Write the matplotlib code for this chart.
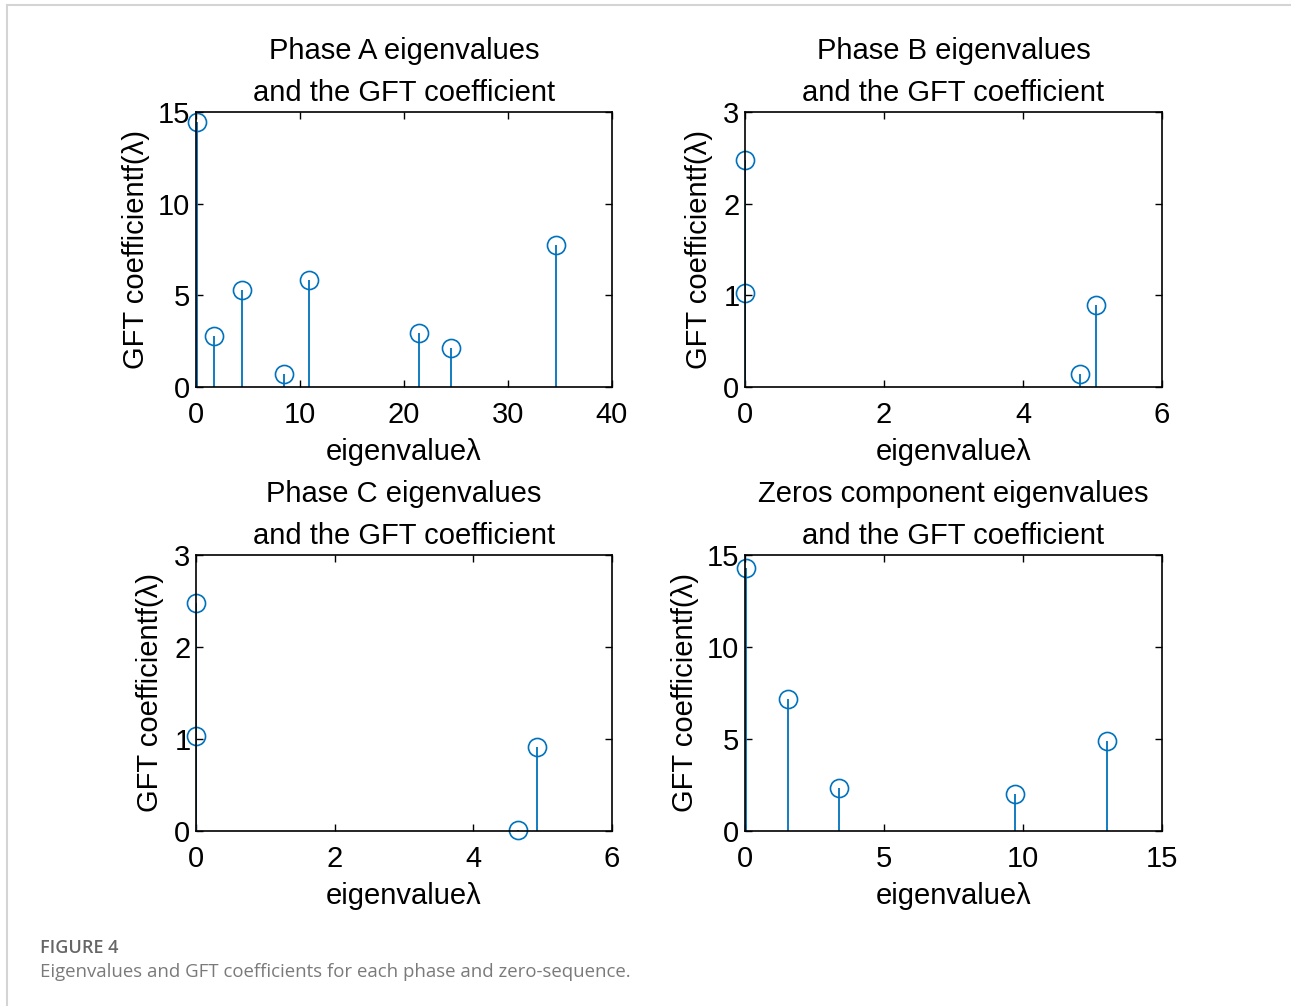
import matplotlib
matplotlib.use("Agg")
import matplotlib.pyplot as plt
from matplotlib.lines import Line2D

# --- Data: eigenvalue (x) and GFT coefficient f(λ) (y) per component ---

PHASE_A_LAMBDA = [0.1, 1.7, 4.4, 8.5, 10.9, 21.4, 24.5, 34.6]
PHASE_A_COEF = [14.47, 2.76, 5.27, 0.69, 5.82, 2.95, 2.15, 7.76]

PHASE_B_LAMBDA = [0.0, 0.0, 4.82, 5.05]
PHASE_B_COEF = [2.48, 1.03, 0.145, 0.89]

PHASE_C_LAMBDA = [0.0, 0.0, 4.65, 4.92]
PHASE_C_COEF = [2.48, 1.03, 0.01, 0.91]

ZERO_LAMBDA = [0.02, 1.53, 3.37, 9.71, 13.02]
ZERO_COEF = [14.3, 7.15, 2.36, 2.03, 4.9]

TITLES = [
    "Phase A eigenvalues\nand the GFT coefficient",
    "Phase B eigenvalues\nand the GFT coefficient",
    "Phase C eigenvalues\nand the GFT coefficient",
    "Zeros component eigenvalues\nand the GFT coefficient",
]
XLIMS = [(0, 40), (0, 6), (0, 6), (0, 15)]
YLIMS = [(0, 15), (0, 3), (0, 3), (0, 15)]
XTICKS = [[0, 10, 20, 30, 40], [0, 2, 4, 6], [0, 2, 4, 6], [0, 5, 10, 15]]
YTICKS = [[0, 5, 10, 15], [0, 1, 2, 3], [0, 1, 2, 3], [0, 5, 10, 15]]

XLABEL = "eigenvalueλ"
YLABEL = "GFT coefficientf(λ)"
CAPTION_HEAD = "FIGURE 4"
CAPTION_TEXT = "Eigenvalues and GFT coefficients for each phase and zero-sequence."

STEM_BLUE = "#0072BD"
W, H = 1291, 1006

plt.rcParams["font.family"] = ["Liberation Sans", "DejaVu Sans"]

fig = plt.figure(figsize=(W / 100, H / 100), dpi=100)
fig.patch.set_facecolor("white")


def px_axes(x0, y0, x1, y1):
    """Axes from pixel box (left, top, right, bottom) in image coordinates."""
    return fig.add_axes([x0 / W, 1 - y1 / H, (x1 - x0) / W, (y1 - y0) / H])


boxes = [
    (196, 112, 612, 387),
    (745, 112, 1162, 387),
    (196, 555, 612, 831),
    (745, 555, 1162, 831),
]
series = [
    (PHASE_A_LAMBDA, PHASE_A_COEF),
    (PHASE_B_LAMBDA, PHASE_B_COEF),
    (PHASE_C_LAMBDA, PHASE_C_COEF),
    (ZERO_LAMBDA, ZERO_COEF),
]
ylabel_x = [-0.145, -0.11, -0.11, -0.144]

for i, (box, (lam, coef)) in enumerate(zip(boxes, series)):
    ax = px_axes(*box)
    markerline, stemlines, baseline = ax.stem(lam, coef, basefmt=" ")
    markerline.set_marker("o")
    markerline.set_markersize(13)
    markerline.set_markerfacecolor("none")
    markerline.set_markeredgecolor(STEM_BLUE)
    markerline.set_markeredgewidth(1.2)
    markerline.set_clip_on(False)
    stemlines.set_color(STEM_BLUE)
    stemlines.set_linewidth(1.3)

    ax.set_xlim(*XLIMS[i])
    ax.set_ylim(*YLIMS[i])
    ax.set_xticks(XTICKS[i])
    ax.set_yticks(YTICKS[i])
    ax.tick_params(direction="in", length=5, width=1, top=True, right=True,
                   labelsize=21, colors="black")
    ax.tick_params(axis="x", pad=10)
    ax.tick_params(axis="y", pad=4)
    for sp in ax.spines.values():
        sp.set_linewidth(1.2)
        sp.set_color("black")

    ax.set_title(TITLES[i], fontsize=21, linespacing=1.62, pad=8)
    ax.set_xlabel(XLABEL, fontsize=21, va="center")
    ax.xaxis.set_label_coords(0.5, -0.236)
    ax.set_ylabel(YLABEL, fontsize=21, va="center")
    ax.yaxis.set_label_coords(ylabel_x[i], 0.5)

# Light frame around the figure panel
frame_color = "#d4d4d4"
fig.add_artist(Line2D([7 / W, 1.0], [1 - 5 / H, 1 - 5 / H], color=frame_color,
                      linewidth=1.5, transform=fig.transFigure))
fig.add_artist(Line2D([7 / W, 7 / W], [1 - 5 / H, 0.0], color=frame_color,
                      linewidth=1.5, transform=fig.transFigure))

fig.text(40 / W, 1 - 948 / H, CAPTION_HEAD, fontsize=13, color="#666666",
         family=["Open Sans", "DejaVu Sans"], fontweight="semibold", va="center")
fig.text(40 / W, 1 - 972 / H, CAPTION_TEXT, fontsize=13.4, color="#7a7a7a",
         family=["Open Sans", "DejaVu Sans"], va="center")

fig.savefig("out.png", dpi=100)
